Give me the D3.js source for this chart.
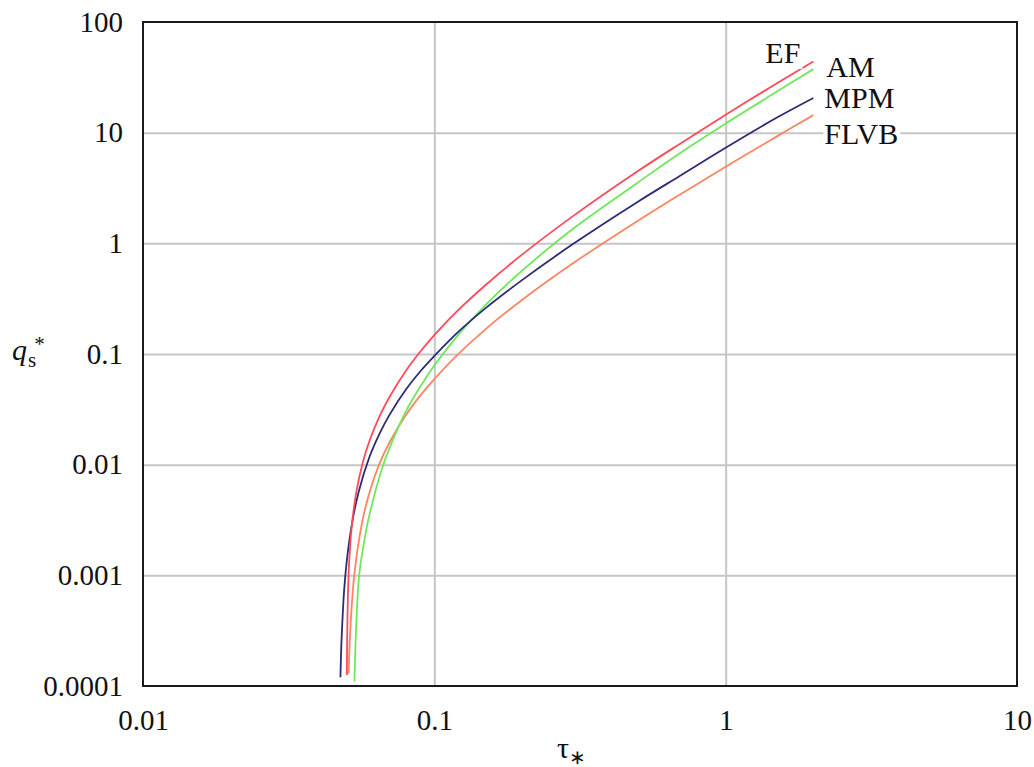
<!DOCTYPE html>
<html>
<head>
<meta charset="utf-8">
<script src="https://cdn.jsdelivr.net/npm/d3@7"></script>
<style>
  html, body { margin: 0; padding: 0; background: #fff; }
  svg { display: block; }
  text { font-family: "Liberation Serif", "Times New Roman", serif; fill: #111; }
</style>
</head>
<body>
<svg id="chart" width="1034" height="767"></svg>
<script>
// ---------------- data ----------------
const xTicks = [0.01, 0.1, 1, 10];
const xTickLabels = ["0.01", "0.1", "1", "10"];
const yTicks = [100, 10, 1, 0.1, 0.01, 0.001, 0.0001];
const yTickLabels = ["100", "10", "1", "0.1", "0.01", "0.001", "0.0001"];

const seriesNames = ["EF", "AM", "MPM", "FLVB"];
const seriesColors = ["#ff4a5a", "#6ee85a", "#2c2c74", "#ff8462"];

const efTau = [0.0501, 0.0502, 0.0505, 0.051, 0.052, 0.054, 0.057, 0.06, 0.065, 0.07, 0.08, 0.09, 0.1, 0.12, 0.15, 0.2, 0.3, 0.5, 0.7, 1, 1.5, 2];
const efQ   = [1.26e-4, 2.5e-4, 6.4e-4, 1.3e-3, 2.7e-3, 5.7e-3, 0.0108, 0.0166, 0.0277, 0.0405, 0.071, 0.107, 0.148, 0.245, 0.42, 0.79, 1.77, 4.5, 8.0, 14.5, 28, 44];

const amTau = [0.0532, 0.0538, 0.0552, 0.0574, 0.0593, 0.066, 0.07, 0.08, 0.09, 0.1, 0.12, 0.15, 0.2, 0.3, 0.5, 0.7, 1, 1.5, 2];
const amQ   = [1.1e-4, 3.0e-4, 1.0e-3, 2.0e-3, 3.15e-3, 9.1e-3, 0.0139, 0.0306, 0.052, 0.0787, 0.146, 0.278, 0.565, 1.36, 3.55, 6.6, 12.1, 23.5, 37.5];

const mpmTau = [0.04761, 0.0478, 0.048, 0.049, 0.05, 0.052, 0.055, 0.06, 0.065, 0.07, 0.08, 0.09, 0.1, 0.12, 0.15, 0.2, 0.3, 0.5, 0.7, 1, 1.5, 2];
const mpmQ   = [1.2e-4, 1.8e-4, 2.5e-4, 7.2e-4, 1.31e-3, 2.8e-3, 5.7e-3, 0.0119, 0.0193, 0.0279, 0.048, 0.071, 0.096, 0.156, 0.26, 0.465, 0.99, 2.38, 4.1, 7.3, 13.7, 20.6];

const flvbTau = [0.0508, 0.0514, 0.0531, 0.0565, 0.06, 0.0646, 0.07, 0.08, 0.09, 0.1, 0.12, 0.15, 0.2, 0.3, 0.5, 0.7, 1, 1.5, 2];
const flvbQ   = [1.3e-4, 3.0e-4, 1.0e-3, 3.0e-3, 5.7e-3, 0.0100, 0.0157, 0.0282, 0.0429, 0.0593, 0.0982, 0.168, 0.308, 0.663, 1.60, 2.78, 4.91, 9.26, 14.4];

// ---------------- layout ----------------
const svg = d3.select("#chart");
const mLeft = 143, mRight = 1017, mTop = 22, mBottom = 686;

const x = d3.scaleLog().domain([0.01, 10]).range([mLeft, mRight]);
const y = d3.scaleLog().domain([0.0001, 100]).range([mBottom, mTop]);

svg.append("rect").attr("width", 1034).attr("height", 767).attr("fill", "#fff");

// grid lines
const gridX = d3.axisBottom(x).tickValues(xTicks.slice(1, -1)).tickSize(-(mBottom - mTop)).tickFormat("");
svg.append("g").attr("transform", `translate(0,${mBottom})`).call(gridX)
  .call(g => g.select(".domain").remove())
  .call(g => g.selectAll("line").attr("stroke", "#c6c6c6").attr("stroke-width", 2));
const gridY = d3.axisLeft(y).tickValues(yTicks.slice(1, -1)).tickSize(-(mRight - mLeft)).tickFormat("");
svg.append("g").attr("transform", `translate(${mLeft},0)`).call(gridY)
  .call(g => g.select(".domain").remove())
  .call(g => g.selectAll("line").attr("stroke", "#c6c6c6").attr("stroke-width", 2));

// axes tick labels
const yAxis = d3.axisLeft(y).tickValues(yTicks).tickFormat((d, i) => yTickLabels[i]).tickSize(0).tickPadding(20);
svg.append("g").attr("transform", `translate(${mLeft},0)`).call(yAxis)
  .call(g => g.select(".domain").remove())
  .call(g => g.selectAll("text").attr("font-family", "Liberation Serif").attr("font-size", 29).attr("fill", "#111"));
const xAxis = d3.axisBottom(x).tickValues(xTicks).tickFormat((d, i) => xTickLabels[i]).tickSize(0).tickPadding(23);
svg.append("g").attr("transform", `translate(0,${mBottom})`).call(xAxis)
  .call(g => g.select(".domain").remove())
  .call(g => g.selectAll("text").attr("font-family", "Liberation Serif").attr("font-size", 29).attr("fill", "#111"));

// series lines
const series = [
  { name: seriesNames[0], tau: efTau, q: efQ, color: seriesColors[0] },
  { name: seriesNames[1], tau: amTau, q: amQ, color: seriesColors[1] },
  { name: seriesNames[2], tau: mpmTau, q: mpmQ, color: seriesColors[2] },
  { name: seriesNames[3], tau: flvbTau, q: flvbQ, color: seriesColors[3] }
];
const line = d3.line()
  .x(d => x(d[0]))
  .y(d => y(d[1]))
  .curve(d3.curveCatmullRom.alpha(0.5));

// draw order: FLVB, AM, MPM, EF
[3, 1, 2, 0].forEach(i => {
  const s = series[i];
  svg.append("path")
    .datum(s.tau.map((t, k) => [t, s.q[k]]))
    .attr("d", line)
    .attr("fill", "none")
    .attr("stroke", s.color)
    .attr("stroke-width", 1.8)
    .attr("stroke-linejoin", "round");
});

// frame
svg.append("rect")
  .attr("x", mLeft).attr("y", mTop)
  .attr("width", mRight - mLeft).attr("height", mBottom - mTop)
  .attr("fill", "none").attr("stroke", "#1a1a1a").attr("stroke-width", 2);

// series labels with white background
const labelPos = [
  { dx: -48, yb: 63 },   // EF
  { dx: 13, yb: 77 },    // AM
  { dx: 11, yb: 108 },   // MPM
  { dx: 11, yb: 144 }    // FLVB
];
series.forEach((s, i) => {
  const g = svg.append("g");
  const t = g.append("text")
    .attr("x", x(2) + labelPos[i].dx)
    .attr("y", labelPos[i].yb)
    .attr("font-size", 30)
    .text(s.name);
  const bb = t.node().getBBox();
  g.insert("rect", "text")
    .attr("x", bb.x - 1).attr("y", bb.y)
    .attr("width", bb.width + 3).attr("height", bb.height)
    .attr("fill", "#fff");
});

// axis titles
const yt = svg.append("text").attr("x", 12).attr("y", 360).attr("font-size", 30);
yt.append("tspan").attr("font-style", "italic").text("q");
yt.append("tspan").attr("font-size", 21).attr("dx", 1).attr("dy", 7).text("s");
yt.append("tspan").attr("font-size", 21).attr("dx", -2).attr("dy", -16).text("*");

const xt = svg.append("text").attr("x", 557).attr("y", 758).attr("font-size", 30);
xt.append("tspan").text("τ");
xt.append("tspan").attr("font-size", 20).attr("dy", 6).text("∗");
</script>
</body>
</html>
